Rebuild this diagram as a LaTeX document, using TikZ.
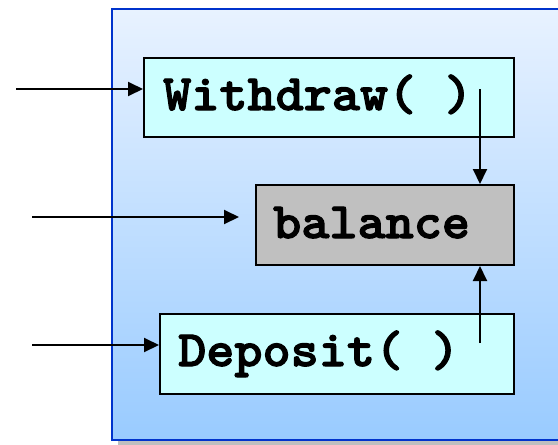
\documentclass[tikz,border=0pt]{standalone}
\usepackage{fontspec}
\usetikzlibrary{arrows.meta}
\definecolor{frameblue}{HTML}{0033CC}
\definecolor{skytop}{HTML}{E8F2FF}
\definecolor{skybottom}{HTML}{99CBFF}
\definecolor{methodfill}{HTML}{CCFFFF}
\definecolor{datafill}{HTML}{C0C0C0}
% monospaced bold labels, thickened by stroking the glyph outlines
\newcommand{\codetext}[1]{\scalebox{1.05}[1]{\ttfamily\bfseries\fontsize{51}{54}\selectfont
  \special{pdf:literal direct 0 0 0 RG 2 Tr 1.1 w}#1\special{pdf:literal direct 0 Tr}}}
\tikzset{
  fnbox/.style={draw=black, line width=2pt, fill=methodfill, rectangle, inner sep=0pt, anchor=north west},
  databox/.style={draw=black, line width=2pt, fill=datafill, rectangle, inner sep=0pt, anchor=north west},
  code/.style={inner sep=0pt, anchor=base west},
  flow/.style={line width=2pt, -{Triangle[length=15pt, width=14pt]}},
}
\begin{document}
\begin{tikzpicture}[x=1pt, y=-1pt]
\useasboundingbox (0,0) rectangle (558,445);
\begin{scope}
  \clip (0,0) rectangle (558,445);
  % object frame with drop shadow
  \fill[black!25] (118,15) rectangle (590,446);
  \shade[top color=skytop, bottom color=skybottom] (112,9) rectangle (584,440);
  \draw[frameblue, line width=2pt] (112,9) rectangle (584,440);
\end{scope}

% methods and data
\node[fnbox, minimum width=370pt, minimum height=79pt] (wd) at (143,57) {};
\node[code] (wdtext) at (163,110) {\codetext{Withdraw( )}};
\node[databox, minimum width=258pt, minimum height=80pt] (bal) at (255,184) {};
\node[code] (baltext) at (273,238) {\codetext{balance}};
\node[fnbox, minimum width=354pt, minimum height=80pt] (dep) at (159,313) {};
\node[code] (deptext) at (178,366) {\codetext{Deposit( )}};

% connector end points
\coordinate (in1) at (16,89);
\coordinate (in2) at (32,217);
\coordinate (in3) at (32,345);
\coordinate (wdout) at (480,89);
\coordinate (depout) at (480,343);

% incoming calls
\draw[flow] (in1) -- (in1 -| wd.west);
\draw[flow, shorten >=16pt] (in2) -- (in2 -| bal.west);
\draw[flow] (in3) -- (in3 -| dep.west);

% methods acting on the balance
\draw[flow] (wdout) -- (wdout |- bal.north);
\draw[flow] (depout) -- (depout |- bal.south);
\end{tikzpicture}
\end{document}
